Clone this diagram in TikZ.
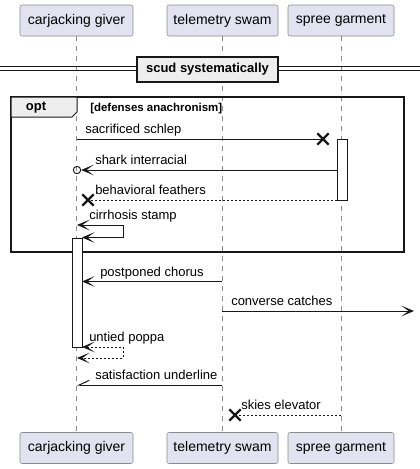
\documentclass[tikz,border=0pt]{standalone}
\usepackage{fontspec}
\setmainfont{Liberation Sans}
\usetikzlibrary{arrows.meta,shapes.misc,positioning}

\definecolor{partfill}{HTML}{E2E2F0}
\definecolor{partline}{HTML}{8C8C8C}
\definecolor{ink}{HTML}{181818}
\definecolor{grpfill}{HTML}{EEEEEE}

\tikzset{
  party/.style={draw=partline, fill=partfill, rounded corners=1.5pt, minimum height=23.25pt,
    inner sep=0pt, font=\fontsize{10.5}{12}\selectfont},
  life/.style={draw=partline, line width=0.6pt, dash pattern=on 3.75pt off 3.75pt},
  actbar/.style={draw=ink, fill=white, line width=0.75pt, minimum width=7.5pt, inner sep=0pt},
  tip/.tip={Stealth[length=9.5pt,width=8pt,inset=5.5pt]},
  msg/.style={draw=ink, line width=0.75pt, -tip},
  rmsg/.style={msg, dash pattern=on 1.5pt off 1.5pt},
  lost/.style={draw=ink, line width=0.75pt},
  kill/.style={cross out, draw=ink, line width=1.6pt, minimum size=7pt, inner sep=0pt},
  lbl/.style={anchor=base west, inner sep=0pt, font=\fontsize{9.75}{11}\selectfont},
}

\begin{document}
\begin{tikzpicture}[x=0.75pt, y=-0.75pt]
\useasboundingbox (0,0) rectangle (420,469);

% participants
\node[party, minimum width=84.75pt] (cgT) at (76.5,20.5) {carjacking giver};
\node[party, minimum width=83.25pt] (tsT) at (222.5,20.5) {telemetry swam};
\node[party, minimum width=79.5pt] (sgT) at (341,20.5) {spree garment};
\node[party, minimum width=84.75pt] (cgB) at (76.5,448) {carjacking giver};
\node[party, minimum width=83.25pt] (tsB) at (222.5,448) {telemetry swam};
\node[party, minimum width=79.5pt] (sgB) at (341,448) {spree garment};

\draw[life] (cgT) -- (cgB);
\draw[life] (tsT) -- (tsB);
\draw[life] (sgT) -- (sgB);

% divider
\draw[ink, line width=0.75pt] (0,66) -- (420,66) (0,70.5) -- (420,70.5);
\node[draw=ink, fill=grpfill, line width=1.5pt, minimum width=105.75pt, minimum height=18.75pt,
  inner sep=0pt, font=\bfseries\fontsize{9.75}{11}\selectfont] (scud) at (207.5,69.5) {scud systematically};

% opt frame
\draw[ink, line width=1.5pt] (11,97) rectangle (404,252);
\draw[ink, line width=0.75pt, fill=grpfill] (11,97) -- (77,97) -- (77,112) -- (72,117) -- (11,117) -- cycle;
\node[font=\bfseries\fontsize{9.75}{11}\selectfont, inner sep=0pt] (optT) at (36,108) {opt};
\node[lbl, font=\bfseries\fontsize{8.6}{10}\selectfont] (cond) at (90,111) {[defenses anachronism]};

% activations
\node[actbar, minimum height=45.75pt] (sgA) at (342,169.5) {};
\node[actbar, minimum height=81.75pt] (cgA) at (77,292.5) {};

% sacrificed schlep
\coordinate (m1s) at (77,139);
\node[kill] (x1) at (323,139) {};
\draw[lost] (m1s) -- (x1.center);
\node[lbl] (l1) at (85,133) {sacrificed schlep};

% shark interracial
\coordinate (m2s) at (337,170);
\node[circle, draw=ink, line width=0.75pt, minimum size=5.5pt, inner sep=0pt] (o2) at (77,170) {};
\draw[msg] (m2s) -- (o2);
\node[lbl] (l2) at (95,164.5) {shark interracial};

% behavioral feathers
\coordinate (m3s) at (337,200);
\node[kill] (x3) at (88,200) {};
\draw[lost, dash pattern=on 1.5pt off 1.5pt] (m3s) -- (x3.center);
\node[lbl] (l3) at (95,194.5) {behavioral feathers};

% cirrhosis stamp
\coordinate (m4s) at (77,225);
\coordinate (m4e) at (82,237.5);
\draw[msg, tip-tip] (m4s) -- (123,225) -- (123,237.5) -- (m4e);
\node[lbl] (l4) at (89,219.5) {cirrhosis stamp};

% postponed chorus
\coordinate (m5s) at (222,281.5);
\coordinate (m5e) at (82,281.5);
\draw[msg] (m5s) -- (m5e);
\node[lbl] (l5) at (100,276) {postponed chorus};

% converse catches
\coordinate (m6s) at (222,311);
\coordinate (m6e) at (414,311);
\draw[msg] (m6s) -- (m6e);
\node[lbl] (l6) at (231,305.5) {converse catches};

% untied poppa
\coordinate (m7s) at (82,347);
\coordinate (m7e) at (77,358);
\draw[rmsg, tip-tip] (m7s) -- (123,347) -- (123,358) -- (m7e);
\node[lbl] (l7) at (89,341.5) {untied poppa};

% satisfaction underline
\coordinate (m8s) at (222,385);
\coordinate (m8e) at (77,385);
\draw[lost, -{Straight Barb[right,length=7.5pt,width=7pt]}] (m8s) -- (m8e);
\node[lbl] (l8) at (95,379.5) {satisfaction underline};

% skies elevator
\coordinate (m9s) at (341,415);
\node[kill] (x9) at (235,415) {};
\draw[lost, dash pattern=on 1.5pt off 1.5pt] (m9s) -- (x9.center);
\node[lbl] (l9) at (241,409.5) {skies elevator};
\end{tikzpicture}
\end{document}
